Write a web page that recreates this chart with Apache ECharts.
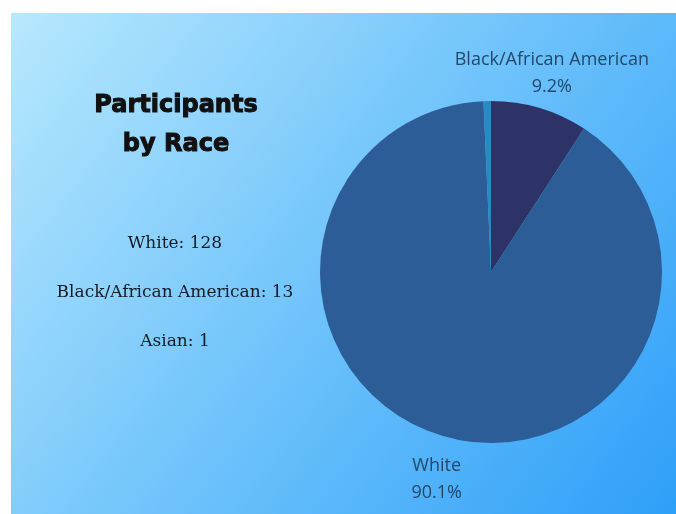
<!DOCTYPE html>
<html>
<head>
<meta charset="utf-8">
<script src="https://cdn.jsdelivr.net/npm/echarts@6/dist/echarts.min.js"></script>
<style>
  html, body { margin: 0; padding: 0; background: #ffffff; }
  #main { width: 676px; height: 514px; }
</style>
</head>
<body>
<div id="main"></div>
<script>
// pie order runs clockwise from 12 o'clock
const races = ['Black/African American', 'White', 'Asian']
const counts = [13, 128, 1]
// order of the text list on the left
const listOrder = ['White', 'Black/African American', 'Asian']

const sliceColors = ['#2e3367', '#2d5d96', '#2a88c2']

let myChart = echarts.init(document.getElementById('main'))

let option = {
  backgroundColor: '#ffffff',
  title: {
    text: 'Participants\nby Race',
    left: 171,
    top: 81,
    textAlign: 'center',
    textStyle: {
      fontFamily: 'DejaVu Sans',
      fontWeight: 'bold',
      fontSize: 24,
      lineHeight: 39,
      color: '#111111',
      textBorderColor: '#111111',
      textBorderWidth: 1
    }
  },
  graphic: [
    {
      type: 'rect',
      z: -10,
      shape: { x: 11, y: 13, width: 665, height: 501 },
      style: {
        fill: new echarts.graphic.LinearGradient(0, 0, 1, 1, [
          { offset: 0, color: '#b8e8fd' },
          { offset: 0.5, color: '#6fc3fb' },
          { offset: 1, color: '#2e9ff8' }
        ])
      }
    },
    ...listOrder.map((name, i) => ({
      type: 'text',
      z: 10,
      x: 175,
      y: 244 + i * 49,
      style: {
        text: name + ': ' + counts[races.indexOf(name)],
        align: 'center',
        verticalAlign: 'middle',
        font: '17px "DejaVu Serif"',
        fill: '#161a24'
      }
    }))
  ],
  series: [
    {
      type: 'pie',
      center: [491, 272],
      radius: 171,
      startAngle: 90,
      clockwise: true,
      percentPrecision: 1,
      minShowLabelAngle: 5,
      avoidLabelOverlap: false,
      itemStyle: { borderWidth: 0 },
      label: {
        position: 'outside',
        formatter: '{b}\n{d}%',
        fontFamily: 'Open Sans',
        fontSize: 18,
        lineHeight: 27,
        color: '#23486c',
        distanceToLabelLine: 0
      },
      labelLine: { show: false, length: 40, length2: 0 },
      labelLayout: { align: 'center', dx: 1, dy: 4 },
      emphasis: { disabled: true },
      data: races.map((name, i) => ({
        name: name,
        value: counts[i],
        itemStyle: { color: sliceColors[i] }
      }))
    }
  ]
}

option && myChart.setOption(option)
</script>
</body>
</html>
